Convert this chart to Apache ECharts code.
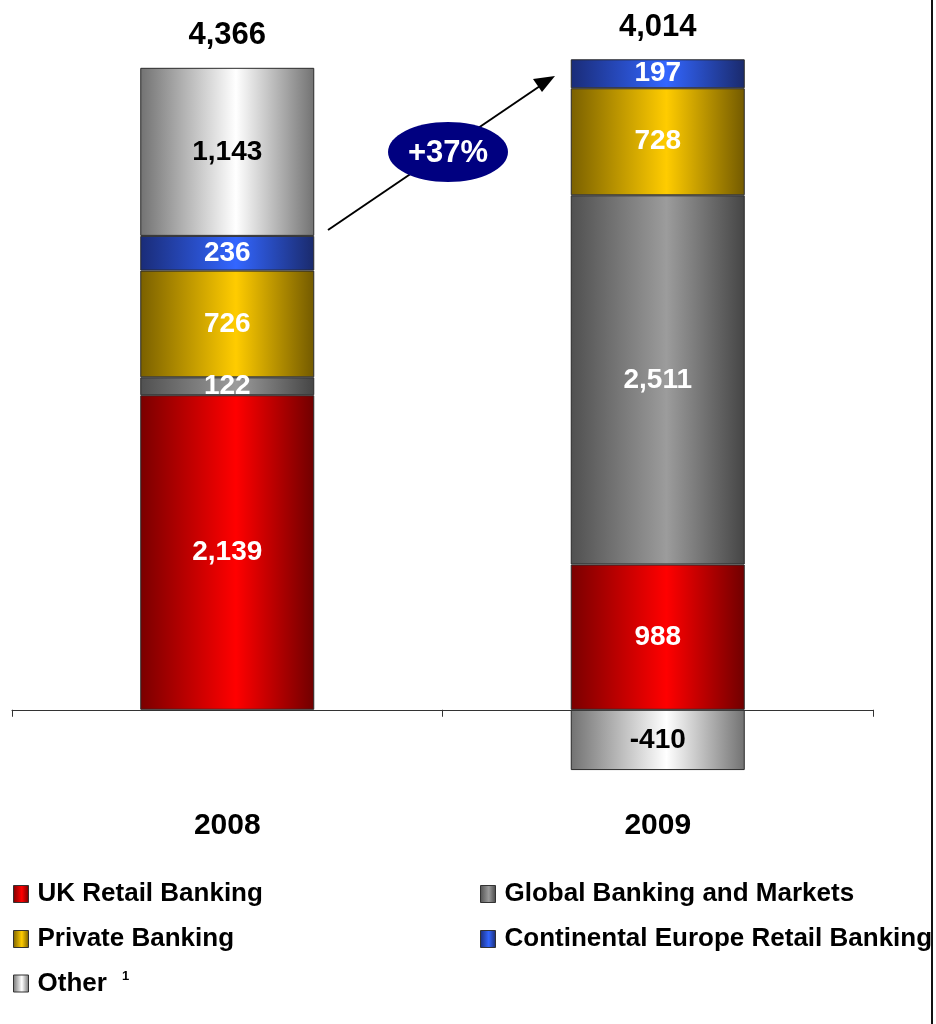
<!DOCTYPE html>
<html>
<head>
<meta charset="utf-8">
<script src="https://cdn.jsdelivr.net/npm/echarts@6/dist/echarts.min.js"></script>
<style>
  html, body { margin: 0; padding: 0; background: #fff; }
  #chart { width: 936px; height: 1024px; }
</style>
</head>
<body>
<div id="chart"></div>
<script>
// Profit by division, stacked per year (£m)
const years = ['2008', '2009'];
const ukRetail = [2139, 988];
const globalBanking = [122, 2511];
const privateBanking = [726, 728];
const continentalEurope = [236, 197];
const other = [1143, -410];
const growthLabel = '+37%';

const FONT = '"Liberation Sans", Arial, sans-serif';

// Horizontal shading that gives each bar a rounded, cylinder-like look
function shade(edgeL, mid, edgeR) {
  return new echarts.graphic.LinearGradient(0, 0, 1, 0, [
    { offset: 0, color: edgeL },
    { offset: 0.55, color: mid },
    { offset: 1, color: edgeR }
  ]);
}

const fmt = v => Number(v).toLocaleString('en-US');

const divisions = [
  { name: 'UK Retail Banking', data: ukRetail, fill: shade('#7a0000', '#ff0000', '#700000'), text: '#fff' },
  { name: 'Global Banking and Markets', data: globalBanking, fill: shade('#505050', '#9c9c9c', '#454545'), text: '#fff' },
  { name: 'Private Banking', data: privateBanking, fill: shade('#7a6000', '#ffcc00', '#735a00'), text: '#fff' },
  { name: 'Continental Europe Retail Banking', data: continentalEurope, fill: shade('#1a2c78', '#3366ff', '#1a2a6c'), text: '#fff' },
  { name: 'Other', data: other, fill: shade('#727272', '#ffffff', '#727272'), text: '#000' }
];

// Net total per year, and the height of the positive part of each stack
const netTotals = years.map((_, i) => divisions.reduce((s, d) => s + d.data[i], 0));
const positiveTops = years.map((_, i) => divisions.reduce((s, d) => s + Math.max(0, d.data[i]), 0));

const barSeries = divisions.map(d => ({
  name: d.name,
  type: 'bar',
  stack: 'profit',
  barWidth: 174,
  data: d.data,
  itemStyle: { color: d.fill, borderColor: '#2a2a2a', borderWidth: 1 },
  label: {
    show: true,
    position: 'inside',
    color: d.text,
    fontFamily: FONT,
    fontWeight: 'bold',
    fontSize: 28,
    formatter: p => fmt(p.value)
  },
  emphasis: { disabled: true }
}));

const totalSeries = {
  name: 'Total',
  type: 'scatter',
  data: positiveTops.map((v, i) => [i, v]),
  symbolSize: 1,
  itemStyle: { color: 'rgba(0,0,0,0)', opacity: 1 },
  label: {
    show: true,
    position: 'top',
    distance: 16,
    color: '#000',
    fontFamily: FONT,
    fontWeight: 'bold',
    fontSize: 31,
    formatter: p => fmt(netTotals[p.dataIndex])
  },
  emphasis: { disabled: true },
  z: 5
};

// One legend block per entry, laid out in two columns
const legendSlots = [
  { name: 'UK Retail Banking', left: 8, top: 876 },
  { name: 'Global Banking and Markets', left: 475, top: 876 },
  { name: 'Private Banking', left: 8, top: 921 },
  { name: 'Continental Europe Retail Banking', left: 475, top: 921 },
  { name: 'Other', left: 8, top: 965 }
];

const legends = legendSlots.map(s => ({
  data: [s.name],
  left: s.left,
  top: s.top,
  icon: 'rect',
  itemWidth: 15,
  itemHeight: 17,
  selectedMode: false,
  itemStyle: { borderColor: '#333', borderWidth: 1 },
  formatter: n => (n === 'Other' ? 'Other {sup|1}' : n),
  textStyle: {
    fontFamily: FONT,
    fontWeight: 'bold',
    fontSize: 26,
    color: '#000',
    padding: [0, 0, 0, 4],
    rich: {
      sup: { fontFamily: FONT, fontWeight: 'bold', fontSize: 13, color: '#000', padding: [0, 0, 14, 8] }
    }
  }
}));

const chart = echarts.init(document.getElementById('chart'), null, { renderer: 'canvas' });

chart.setOption({
  animation: false,
  backgroundColor: '#fff',
  grid: { left: 12, right: 63, top: 4, bottom: 226 },
  legend: legends,
  xAxis: {
    type: 'category',
    data: years,
    axisLine: { show: true, onZero: true, lineStyle: { color: '#333', width: 1 } },
    axisTick: { show: true, length: 7, lineStyle: { color: '#333' } },
    axisLabel: { margin: 13, color: '#000', fontFamily: FONT, fontWeight: 'bold', fontSize: 30 }
  },
  yAxis: {
    type: 'value',
    min: -600,
    max: 4800,
    show: false,
    splitLine: { show: false }
  },
  series: [...barSeries, totalSeries],
  graphic: [
    // growth arrow between the two stacks
    {
      type: 'line',
      shape: { x1: 328, y1: 230, x2: 540, y2: 86 },
      style: { stroke: '#000', lineWidth: 2 },
      z: 10
    },
    {
      type: 'polygon',
      shape: { points: [[555, 76], [533, 79], [542, 92]] },
      style: { fill: '#000' },
      z: 10
    },
    {
      type: 'ellipse',
      shape: { cx: 448, cy: 152, rx: 60, ry: 30 },
      style: { fill: '#000080' },
      z: 11
    },
    {
      type: 'text',
      x: 448,
      y: 153,
      style: {
        text: growthLabel,
        fill: '#fff',
        font: 'bold 31px ' + FONT,
        align: 'center',
        verticalAlign: 'middle'
      },
      z: 12
    },
    // frame edge on the right
    {
      type: 'line',
      shape: { x1: 932, y1: 0, x2: 932, y2: 1024 },
      style: { stroke: '#111', lineWidth: 2 },
      z: 10
    }
  ]
});
</script>
</body>
</html>
